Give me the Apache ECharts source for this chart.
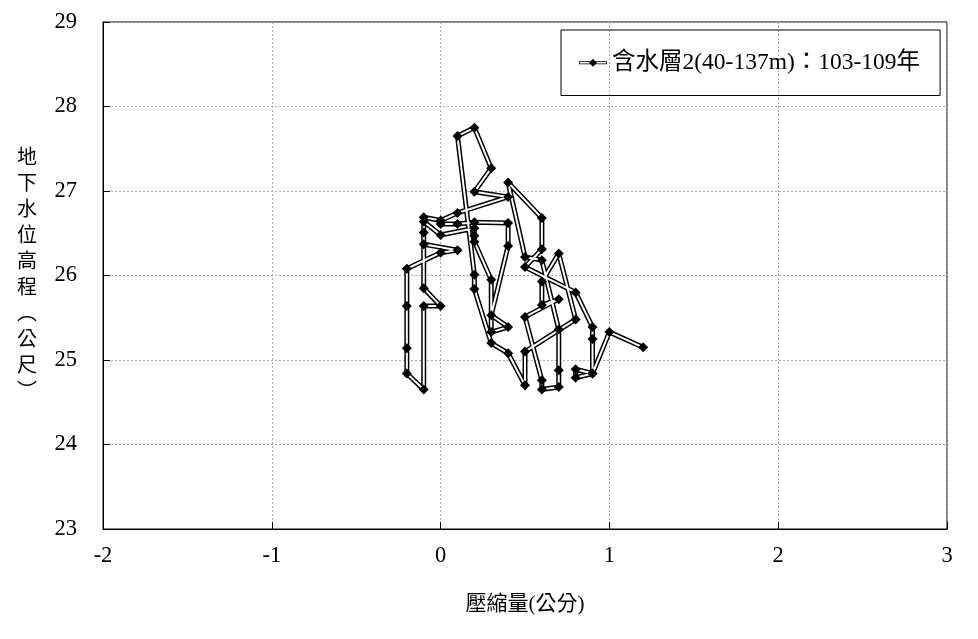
<!DOCTYPE html>
<html>
<head>
<meta charset="utf-8">
<script src="https://cdn.jsdelivr.net/npm/echarts@6/dist/echarts.min.js"></script>
<style>html,body{margin:0;padding:0;background:#fff;}#chart{width:978px;height:639px;}</style>
</head>
<body>
<div id="chart"></div>
<script>
// Compaction (cm) and groundwater level (m), in drawing order
const compaction = [0.0, 0.1, 0.2, 0.4, 0.4, 0.3, 0.4, 0.3, 0.3, 0.2, 0.2, 0.2, 0.0, -0.1, -0.1, -0.1, 0.1, 0.0, -0.2, -0.2, -0.2, -0.2, -0.1, -0.1, 0.0, -0.1, -0.1, 0.0, 0.1, 0.4, 0.2, 0.3, 0.2, 0.1, 0.2, 0.2, 0.3, 0.4, 0.5, 0.5, 0.8, 0.7, 0.6, 0.6, 0.7, 0.5, 0.6, 0.6, 0.7, 0.7, 0.7, 0.6, 0.5, 0.4, 0.6, 0.6, 0.5, 0.8, 0.9, 0.9, 0.9, 0.8, 0.8, 0.9, 1.0, 1.2];
const level = [26.61, 26.61, 26.63, 26.62, 26.35, 25.53, 25.39, 25.33, 25.95, 26.40, 26.47, 26.56, 26.48, 26.64, 26.51, 26.37, 26.30, 26.27, 26.08, 25.64, 25.14, 24.84, 24.65, 25.64, 25.64, 25.85, 26.69, 26.65, 26.74, 26.93, 26.99, 27.27, 27.75, 27.65, 26.01, 25.84, 25.20, 25.08, 24.70, 25.10, 25.48, 26.26, 25.93, 25.65, 25.72, 25.51, 24.76, 24.65, 24.68, 24.88, 25.36, 26.18, 26.22, 27.10, 26.68, 26.31, 26.10, 25.80, 25.39, 25.25, 24.84, 24.79, 24.89, 24.84, 25.33, 25.15];
const seriesName = '含水層2(40-137m)：103-109年';
const xAxisName = '壓縮量(公分)';
const yAxisName = '地下水位高程︵公尺︶';

const points = compaction.map((x, i) => [x, level[i]]);
const FONT = "'Liberation Serif', 'Noto Sans CJK TC', serif";

const chart = echarts.init(document.getElementById('chart'));
chart.setOption({
  animation: false,
  backgroundColor: '#fff',
  grid: { left: 103, right: 31, top: 22, bottom: 110, show: true, borderColor: '#000', borderWidth: 1 },
  legend: {
    data: [seriesName],
    left: 561, top: 30,
    padding: [21, 20, 21, 18],
    borderColor: '#000', borderWidth: 1,
    itemWidth: 28, itemHeight: 8, itemGap: 6,
    icon: 'path://M0,2.4H28V3.3H0Z M0,4.7H28V5.6H0Z M0,2.4H0.8V5.6H0Z M27.2,2.4H28V5.6H27.2Z M14,0L18,4L14,8L10,4Z',
    itemStyle: { color: '#000' },
    textStyle: { fontFamily: FONT, fontSize: 23.5, color: '#000' }
  },
  xAxis: {
    type: 'value', min: -2, max: 3, interval: 1,
    name: xAxisName, nameLocation: 'middle', nameGap: 65,
    nameTextStyle: { fontFamily: FONT, fontSize: 21, color: '#000' },
    axisLine: { show: true, onZero: false, lineStyle: { color: '#000' } },
    axisTick: { show: true, inside: true, length: 7, lineStyle: { color: '#000' } },
    axisLabel: { fontFamily: FONT, fontSize: 22.5, color: '#000', margin: 16 },
    splitLine: { show: true, lineStyle: { color: '#aaa', type: [2, 2], width: 1 } }
  },
  yAxis: {
    type: 'value', min: 23, max: 29, interval: 1,
    name: yAxisName.split('').join('\n'), nameLocation: 'middle', nameGap: 76, nameRotate: 0,
    nameTextStyle: { fontFamily: FONT, fontSize: 20, color: '#000', lineHeight: 26, align: 'center' },
    axisLine: { show: true, onZero: false, lineStyle: { color: '#000' } },
    axisTick: { show: true, inside: true, length: 7, lineStyle: { color: '#000' } },
    axisLabel: { fontFamily: FONT, fontSize: 22.5, color: '#000', margin: 26 },
    splitLine: { show: true, lineStyle: { color: '#aaa', type: [2, 2], width: 1 } }
  },
  series: [
    {
      name: 'outline', type: 'line', data: points, showSymbol: false, symbol: 'none',
      lineStyle: { color: '#000', width: 5 }, z: 2, silent: true
    },
    {
      name: seriesName, type: 'line', data: points,
      symbol: 'diamond', symbolSize: 10, showAllSymbol: true,
      itemStyle: { color: '#000' },
      lineStyle: { color: '#fff', width: 2 }, z: 3
    }
  ]
});
</script>
</body>
</html>
